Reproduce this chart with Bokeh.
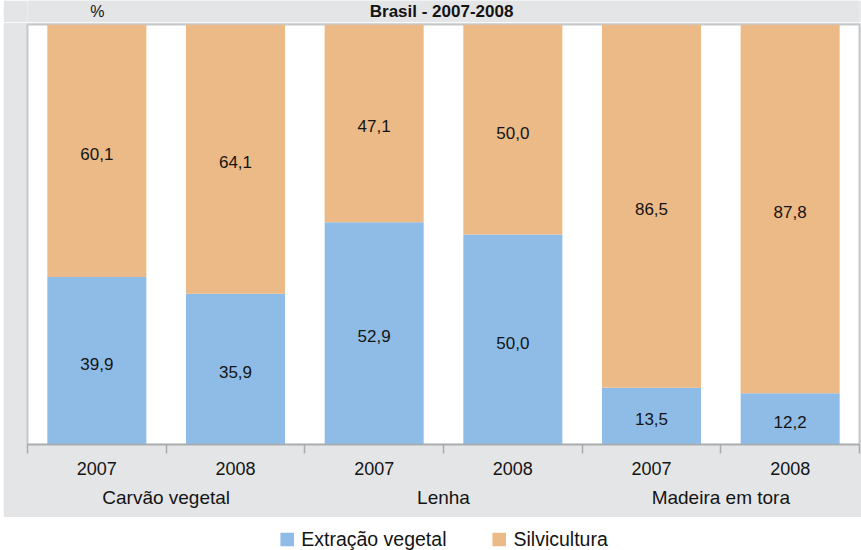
import numpy as np
from bokeh.plotting import figure
from bokeh.models import (ColumnDataSource, Range1d, LinearAxis, FixedTicker,
                          Label, Legend, LegendItem, Spacer)
from bokeh.layouts import column, row
from bokeh.embed import file_html
from bokeh.resources import INLINE
from bokeh.core.properties import value

# ---- data ----
title_text = "Brasil - 2007-2008"
unit_label = "%"
groups = ["Carvão vegetal", "Lenha", "Madeira em tora"]
years = ["2007", "2008"]
series_names = ["Extração vegetal", "Silvicultura"]
extracao = [39.9, 35.9, 52.9, 50.0, 13.5, 12.2]
silvicultura = [60.1, 64.1, 47.1, 50.0, 86.5, 87.8]

# ---- styles ----
FONT = "Liberation Sans"
BLUE = "#8ebce6"
ORANGE = "#ecba87"
PANEL = "#e4e5e7"
LINE = "#a9aaac"
OUTLINE = "#c6c7c9"
TXT = "#141414"
W = 858

slots = [(g, y) for g in groups for y in years]
xs = [i + 0.5 for i in range(len(slots))]
fmt = lambda v: f"{v:.1f}".replace(".", ",")

src = ColumnDataSource(dict(
    x=xs,
    ext=extracao,
    sil=silvicultura,
    ext_mid=[e / 2 for e in extracao],
    sil_mid=[e + s / 2 for e, s in zip(extracao, silvicultura)],
    ext_txt=[fmt(v) for v in extracao],
    sil_txt=[fmt(v) for v in silvicultura],
))

# ---- header (title + unit) ----
h = figure(width=W, height=22, output_backend="svg", toolbar_location=None,
           x_range=Range1d(0, W), y_range=Range1d(0, 22),
           x_axis_location=None, y_axis_location=None)
h.min_border = 0
h.outline_line_color = None
h.grid.visible = False
h.border_fill_color = PANEL
h.background_fill_color = PANEL
h.add_layout(Label(x=427, y=11, text=title_text, text_align="center",
                   text_baseline="middle", text_font=FONT, text_font_size="17px",
                   text_font_style="bold", text_color=TXT))
h.add_layout(Label(x=72, y=11, text=unit_label, text_align="center",
                   text_baseline="middle", text_font=FONT, text_font_size="16px",
                   text_color=TXT))

# ---- main chart ----
p = figure(width=W, height=495, output_backend="svg", toolbar_location=None,
           x_range=Range1d(0, len(slots)), y_range=Range1d(0, 100),
           x_axis_location=None, y_axis_location=None)
p.min_border_left = 24
p.min_border_right = 2
p.min_border_top = 2
p.min_border_bottom = 73
p.border_fill_color = PANEL
p.background_fill_color = "white"
p.outline_line_color = OUTLINE
p.outline_line_width = 2
p.grid.visible = False

p.vbar_stack(["ext", "sil"], x="x", width=0.714, source=src,
             color=[BLUE, ORANGE], line_color=None)

for ycol, tcol in (("ext_mid", "ext_txt"), ("sil_mid", "sil_txt")):
    p.text(x="x", y=ycol, text=tcol, source=src, text_align="center",
           text_baseline="middle", text_font=value(FONT), text_font_size="17px",
           text_color=TXT, y_offset=3)

# year axis with boundary ticks
ax1 = LinearAxis(ticker=FixedTicker(ticks=xs, minor_ticks=list(range(len(slots) + 1))))
ax1.major_label_overrides = {x: y for x, (g, y) in zip(xs, slots)}
ax1.major_tick_out = 0
ax1.major_tick_in = 0
ax1.minor_tick_out = 9
ax1.minor_tick_in = 0
ax1.minor_tick_line_color = LINE
ax1.minor_tick_line_width = 1.5
ax1.axis_line_color = LINE
ax1.axis_line_width = 1.5
ax1.major_label_standoff = 8
ax1.major_label_text_font = FONT
ax1.major_label_text_font_size = "18px"
ax1.major_label_text_color = TXT
p.add_layout(ax1, "below")

# group axis
gticks = [2 * i + 1 for i in range(len(groups))]
ax2 = LinearAxis(ticker=FixedTicker(ticks=gticks, minor_ticks=[]))
ax2.major_label_overrides = {t: g for t, g in zip(gticks, groups)}
ax2.axis_line_color = None
ax2.major_tick_line_color = None
ax2.minor_tick_line_color = None
ax2.major_label_standoff = 3
ax2.major_label_text_font = FONT
ax2.major_label_text_font_size = "19px"
ax2.major_label_text_color = TXT
p.add_layout(ax2, "below")

# ---- legend strip ----
p2 = figure(width=W, height=33, output_backend="svg", toolbar_location=None,
            x_range=Range1d(0, 1), y_range=Range1d(0, 1),
            x_axis_location=None, y_axis_location=None)
p2.min_border = 0
p2.min_border_left = 20
p2.min_border_top = 11
p2.outline_line_color = None
p2.grid.visible = False
p2.border_fill_color = "white"
# zero-height proxies: only their legend swatches are seen
lr1 = p2.vbar(x=[0.5], top=[0], bottom=[0], width=0.1, fill_color=BLUE, line_color=None)
lr2 = p2.vbar(x=[0.5], top=[0], bottom=[0], width=0.1, fill_color=ORANGE, line_color=None)
leg = Legend(items=[LegendItem(label=series_names[0], renderers=[lr1]),
                    LegendItem(label=series_names[1], renderers=[lr2])],
             orientation="horizontal", location="center")
leg.label_text_font = FONT
leg.label_text_font_size = "19.5px"
leg.label_text_color = TXT
leg.glyph_width = 17
leg.glyph_height = 17
leg.label_standoff = 6
leg.spacing = 44
leg.padding = 0
leg.margin = 0
leg.border_line_color = None
leg.background_fill_alpha = 0
p2.add_layout(leg, "center")

layout = row(Spacer(width=3, height=550), column(h, p, p2, spacing=0), spacing=0)
open("out.html", "w").write(file_html(layout, INLINE))
